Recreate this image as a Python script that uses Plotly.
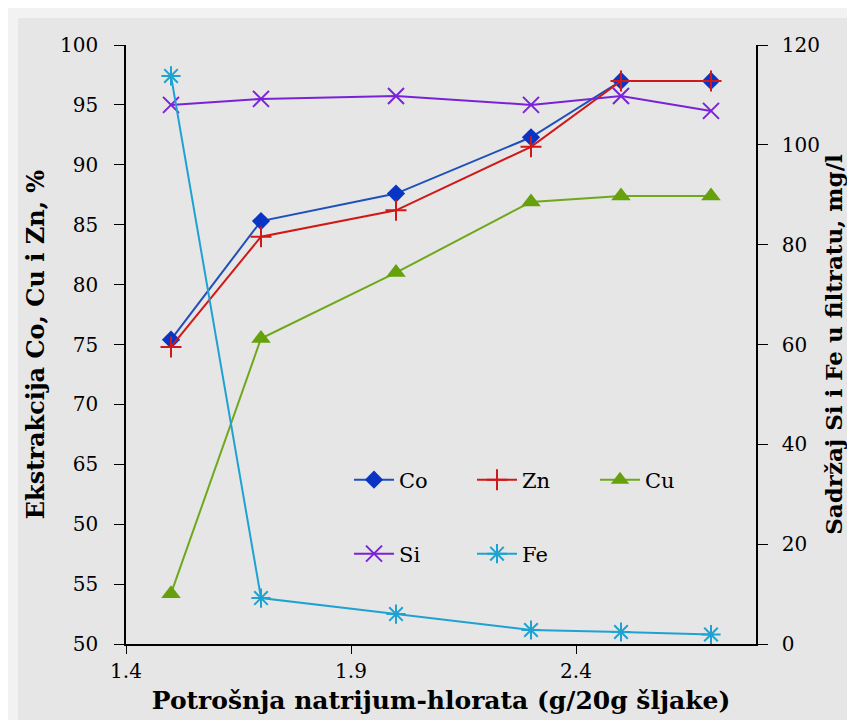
import plotly.graph_objects as go

x_vals = [1.5, 1.7, 2.0, 2.3, 2.5, 2.7]
co = [75.4, 85.3, 87.6, 92.3, 97.0, 97.0]
zn = [74.8, 84.0, 86.2, 91.5, 97.0, 97.0]
cu = [54.2, 75.5, 81.0, 86.9, 87.4, 87.4]
si = [108.0, 109.2, 109.8, 108.0, 109.8, 106.8]
fe = [113.8, 9.2, 6.0, 2.8, 2.4, 1.9]

# left axis tick labels as printed in the reference (note the "50" at the 60 position)
left_tickvals = [50, 55, 60, 65, 70, 75, 80, 85, 90, 95, 100]
left_ticktext = ["50", "55", "50", "65", "70", "75", "80", "85", "90", "95", "100"]

font_family = "DejaVu Serif"

fig = go.Figure()

fig.add_trace(go.Scatter(x=x_vals, y=co, name="Co", mode="lines+markers",
                         line=dict(color="#1f4fb8", width=2),
                         marker=dict(symbol="diamond", size=14, color="#0a34c4"),
                         legend="legend"))
fig.add_trace(go.Scatter(x=x_vals, y=zn, name="Zn", mode="lines+markers",
                         line=dict(color="#d01818", width=2),
                         marker=dict(symbol="cross-thin-open", size=15,
                                     line=dict(color="#d01818", width=2)),
                         legend="legend"))
fig.add_trace(go.Scatter(x=x_vals, y=cu, name="Cu", mode="lines+markers",
                         line=dict(color="#6fa81a", width=2),
                         marker=dict(symbol="triangle-up", size=17, color="#66a00c"),
                         legend="legend"))
fig.add_trace(go.Scatter(x=x_vals, y=si, name="Si", mode="lines+markers", yaxis="y2",
                         line=dict(color="#7a22d8", width=2),
                         marker=dict(symbol="x-thin-open", size=16,
                                     line=dict(color="#7a22d8", width=2)),
                         legend="legend2"))
fig.add_trace(go.Scatter(x=x_vals, y=fe, name="Fe", mode="lines+markers", yaxis="y2",
                         line=dict(color="#1ea2d2", width=2),
                         marker=dict(symbol="asterisk-open", size=16,
                                     line=dict(color="#1ea2d2", width=2)),
                         legend="legend2"))

W, H = 855, 720
ml, mr, mt, mb = 118, 107, 37, 84
pw, ph = W - ml - mr, H - mt - mb

def px(xp):
    return (xp - ml) / pw

def py(yp):
    return (H - mb - yp) / ph

legend_common = dict(orientation="h", xanchor="left", yanchor="middle",
                     bgcolor="rgba(0,0,0,0)", entrywidth=68, entrywidthmode="pixels",
                     font=dict(family=font_family, size=21, color="black"),
                     itemwidth=40, tracegroupgap=0)

fig.update_layout(
    width=W, height=H,
    margin=dict(l=ml, r=mr, t=mt, b=mb, autoexpand=False),
    paper_bgcolor="#f2f2f2",
    plot_bgcolor="#e6e6e6",
    font=dict(family=font_family, size=20, color="black"),
    showlegend=True,
    legend=dict(x=px(341), y=py(472), **legend_common),
    legend2=dict(x=px(341), y=py(546), **legend_common),
    xaxis=dict(range=[1.4, 2.8], tick0=1.4, dtick=0.5, showgrid=False, zeroline=False,
               showline=True, linecolor="black", linewidth=1.5,
               ticks="outside", ticklen=8, tickcolor="black",
               tickfont=dict(family=font_family, size=20), automargin=False,
               title=dict(text="<b>Potrošnja natrijum-hlorata (g/20g šljake)</b>",
                          font=dict(family=font_family, size=25), standoff=10)),
    yaxis=dict(range=[50, 100], tickvals=left_tickvals, ticktext=left_ticktext,
               showgrid=False, zeroline=False,
               showline=True, linecolor="black", linewidth=1.5,
               ticks="outside", ticklen=10, tickcolor="black", ticklabelstandoff=12,
               tickfont=dict(family=font_family, size=20), automargin=False,
               title=dict(text="<b>Ekstrakcija Co, Cu i Zn, %</b>",
                          font=dict(family=font_family, size=24), standoff=9)),
    yaxis2=dict(range=[0, 120], dtick=20, overlaying="y", side="right",
                showgrid=False, zeroline=False,
                showline=True, linecolor="black", linewidth=1.5,
                ticks="outside", ticklen=10, tickcolor="black", ticklabelstandoff=10,
                tickfont=dict(family=font_family, size=20), automargin=False,
                title=dict(text="<b>Sadržaj Si i Fe u filtratu, mg/l</b>",
                           font=dict(family=font_family, size=23), standoff=3)),
)

# background panel (soft frame look)
fig.add_shape(type="rect", xref="paper", yref="paper", layer="below",
              x0=px(10), x1=px(W - 4), y0=py(H - 4), y1=py(10),
              fillcolor="#e6e6e6", line=dict(width=0))

fig.write_html("out.html")
